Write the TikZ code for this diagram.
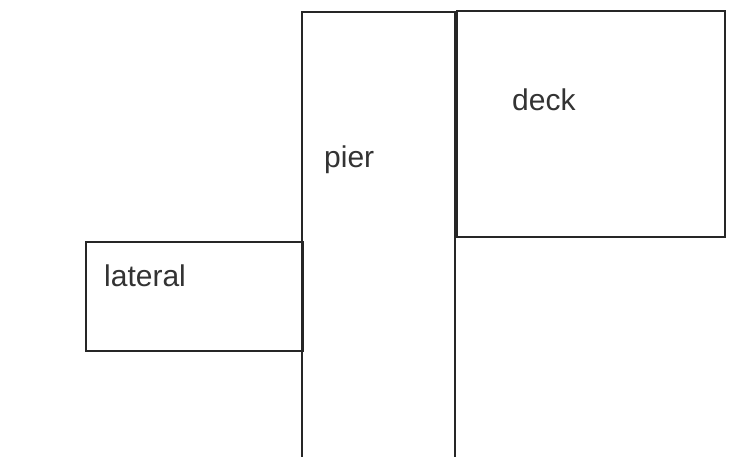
\documentclass[tikz,border=0pt]{standalone}
\usepackage{fontspec}
\setmainfont{Liberation Sans}
\begin{document}
\begin{tikzpicture}[x=1pt,y=-1pt,
  box/.style={draw=black!85,line width=1.6pt,rectangle,inner sep=0pt},
  lbl/.style={anchor=base west,inner sep=0pt,font=\fontsize{30}{36}\selectfont,text=black!80}]
\useasboundingbox[fill=white] (0,0) rectangle (732,457);
% pier (open at bottom)
\coordinate (pbl) at (302,460);
\coordinate (ptl) at (302,12);
\coordinate (ptr) at (455,12);
\coordinate (pbr) at (455,460);
\draw[line width=1.6pt,black!85] (pbl) -- (ptl) -- (ptr) -- (pbr);
% deck
\node[box,minimum width=268pt,minimum height=226pt,anchor=north west] (deck) at (456,10) {};
% lateral
\node[box,minimum width=217pt,minimum height=109pt,anchor=north west] (lateral) at (85,241) {};
% labels
\node[lbl] (tpier) at (324,168) {pier};
\node[lbl] (tdeck) at (512,111) {deck};
\node[lbl] (tlat) at (104,287) {lateral};
\end{tikzpicture}
\end{document}
